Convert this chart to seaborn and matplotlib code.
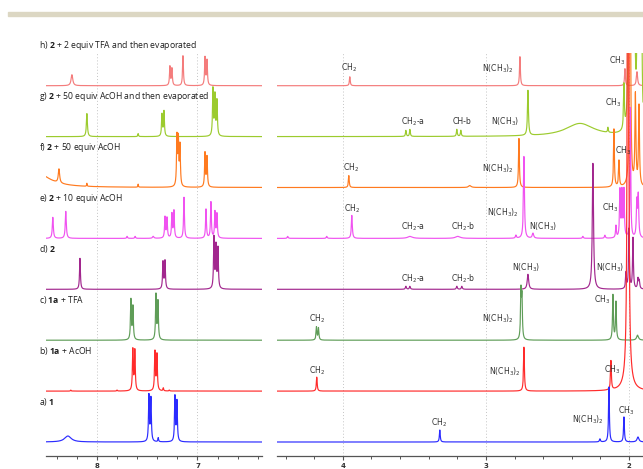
import numpy as np
import pandas as pd
import matplotlib
matplotlib.use("Agg")
import matplotlib.pyplot as plt
import seaborn as sns
from matplotlib.patches import Rectangle
from matplotlib.ticker import FixedLocator

# ---------------- data (peaks: ppm, height, half-width) ----------------
SPECTRA = ["h", "g", "f", "e", "d", "c", "b", "a"]
LABELS = [
    r"h) $\mathbf{2}$ + 2 equiv TFA and then evaporated",
    r"g) $\mathbf{2}$ + 50 equiv AcOH and then evaporated",
    r"f) $\mathbf{2}$ + 50 equiv AcOH",
    r"e) $\mathbf{2}$ + 10 equiv AcOH",
    r"d) $\mathbf{2}$",
    r"c) $\mathbf{1a}$ + TFA",
    r"b) $\mathbf{1a}$ + AcOH",
    r"a) $\mathbf{1}$",
]
COLORS = ["#f47c7c", "#9ccb2e", "#ff7a1f", "#f052f0", "#a2278e", "#5f9d58", "#ff2b2b", "#2b2bff"]

H_LEFT = [(8.249, 11, 0.010), (7.274, 19, 0.005), (7.254, 17, 0.005), (7.144, 30, 0.005),
          (6.925, 28, 0.005), (6.905, 25, 0.005)]
H_RIGHT = [(3.951, 9, 0.0035), (2.762, 29, 0.0035), (2.028, 17, 0.0035), (1.944, 14, 0.005)]

G_LEFT = [(8.100, 23, 0.006), (7.590, 3, 0.004), (7.353, 22, 0.005), (7.333, 25, 0.005),
          (6.846, 47, 0.005), (6.826, 40, 0.005), (6.806, 35, 0.005)]
G_RIGHT = [(3.559, 6, 0.0035), (3.531, 7, 0.0035), (3.203, 7, 0.0035), (3.175, 6, 0.0035),
           (2.706, 45, 0.004), (2.343, 13, 0.12), (2.147, 5, 0.003), (2.035, 44, 0.0035),
           (2.000, 600, 0.003), (1.979, 600, 0.003), (1.965, 600, 0.003),
           (1.937, 600, 0.003), (1.916, 600, 0.003)]

F_LEFT = [(8.600, 15, 0.15), (8.378, 14, 0.008), (8.100, 3, 0.003), (7.590, 3, 0.003),
          (7.204, 49, 0.005), (7.190, 45, 0.005), (7.174, 40, 0.005),
          (6.925, 34, 0.005), (6.905, 30, 0.005)]
F_RIGHT = [(3.958, 12, 0.0035), (3.112, 2, 0.01), (2.769, 49, 0.0035), (2.105, 58, 0.0035),
           (2.070, 26, 0.0035), (1.993, 600, 0.003), (1.955, 90, 0.004), (1.930, 80, 0.004)]

E_LEFT = [(8.439, 21, 0.006), (8.310, 27, 0.006), (7.700, 2, 0.005), (7.620, 2, 0.005),
          (7.440, 2, 0.008), (7.323, 21, 0.005), (7.303, 20, 0.005), (7.254, 24, 0.005),
          (7.234, 27, 0.005), (7.134, 41, 0.005), (6.915, 29, 0.005), (6.866, 36, 0.005),
          (6.826, 26, 0.005), (6.806, 24, 0.005)]
E_RIGHT = [(4.385, 2, 0.004), (4.112, 2, 0.004), (3.937, 23, 0.004), (3.530, 2, 0.02),
           (3.196, 2, 0.02), (2.790, 3, 0.004), (2.734, 82, 0.004), (2.671, 5, 0.006),
           (2.322, 2, 0.004), (2.168, 3, 0.004), (2.091, 12, 0.0035), (2.063, 47, 0.0035),
           (2.049, 45, 0.0035), (2.035, 47, 0.0035), (1.990, 130, 0.003),
           (1.945, 35, 0.004), (1.935, 41, 0.004)]

D_LEFT = [(8.169, 31, 0.005), (7.343, 27, 0.005), (7.323, 28, 0.005), (6.836, 51, 0.005),
          (6.816, 42, 0.005), (6.796, 40, 0.005)]
D_RIGHT = [(3.559, 3, 0.004), (3.531, 3, 0.004), (3.203, 3, 0.004), (3.168, 3, 0.004),
           (2.706, 15, 0.006), (2.252, 126, 0.005), (2.021, 16, 0.0035), (2.000, 60, 0.0035),
           (1.972, 51, 0.0035), (1.937, 10, 0.004), (1.928, 8, 0.004)]

C_LEFT = [(7.662, 40, 0.005), (7.642, 33, 0.005), (7.413, 45, 0.005), (7.393, 38, 0.005)]
C_RIGHT = [(4.184, 13, 0.0035), (4.170, 12, 0.0035), (2.755, 47, 0.0035), (2.748, 40, 0.0035),
           (2.112, 45, 0.0035), (2.091, 38, 0.0035), (1.940, 5, 0.008)]

B_LEFT = [(8.260, 1, 0.004), (7.800, 1, 0.004), (7.643, 41, 0.005), (7.623, 40, 0.005),
          (7.423, 39, 0.005), (7.403, 36, 0.005), (7.340, 3, 0.004), (7.280, 1, 0.004)]
B_RIGHT = [(4.182, 14, 0.0035), (2.734, 44, 0.0035), (2.126, 29, 0.0035),
           (2.007, 1500, 0.003), (2.007, 12, 0.03)]

A_LEFT = [(8.289, 6, 0.04), (7.483, 46, 0.005), (7.463, 43, 0.005), (7.390, 4, 0.004),
          (7.224, 45, 0.005), (7.204, 40, 0.005)]
A_RIGHT = [(3.322, 12, 0.0035), (2.203, 3, 0.004), (2.140, 55, 0.0035), (2.035, 25, 0.0035),
           (1.937, 5, 0.008)]

LEFT_PEAKS = [H_LEFT, G_LEFT, F_LEFT, E_LEFT, D_LEFT, C_LEFT, B_LEFT, A_LEFT]
RIGHT_PEAKS = [H_RIGHT, G_RIGHT, F_RIGHT, E_RIGHT, D_RIGHT, C_RIGHT, B_RIGHT, A_RIGHT]

CH2, CH3 = r"CH$_2$", r"CH$_3$"
NME2, NME = r"N(CH$_3$)$_2$", r"N(CH$_3$)"
NOTES = [
    [(CH2, 3.958, 18), (NME2, 2.916, 17), (CH3, 2.084, 25)],
    [(CH2 + "-a", 3.510, 15), ("CH-b", 3.168, 15), (NME, 2.867, 15), (CH3, 2.112, 34)],
    [(CH2, 3.944, 20), (NME2, 2.916, 19), (CH3, 2.042, 37)],
    [(CH2, 3.937, 30), (CH2 + "-a", 3.510, 12), (CH2 + "-b", 3.161, 12),
     (NME2, 2.881, 26), (NME, 2.601, 12), (CH3, 2.133, 31)],
    [(CH2 + "-a", 3.510, 11), (CH2 + "-b", 3.161, 11), (NME, 2.720, 22), (NME, 2.133, 22)],
    [(CH2, 4.182, 21), (NME2, 2.916, 21), (CH3, 2.189, 40)],
    [(CH2, 4.182, 20), (NME2, 2.867, 19), (CH3, 2.119, 21)],
    [(CH2, 3.329, 19), (NME2, 2.287, 22), (CH3, 2.021, 31)],
]

LEFT_RANGE = (8.507, 6.358)
RIGHT_RANGE = (4.46, 1.902)

# ---------------- style ----------------
sns.set_theme(style="white")
plt.rcParams["font.family"] = ["DejaVu Sans"]
plt.rcParams["mathtext.fontset"] = "custom"
plt.rcParams["mathtext.rm"] = "DejaVu Sans"
plt.rcParams["mathtext.bf"] = "Open Sans:bold"


def spectrum(grid, peaks):
    y = np.zeros_like(grid)
    for p, h, w in peaks:
        y += h * w * w / ((grid - p) ** 2 + w * w)
    return y


fig = plt.figure(figsize=(6.43, 4.69), dpi=100)
fig.patches.append(Rectangle((8 / 643, 1 - 16 / 469), 1, 4 / 469, transform=fig.transFigure,
                             color="#dcd7c3", zorder=0))
bottom, height = 13 / 469, 403 / 469
axL = fig.add_axes([46 / 643, bottom, 216 / 643, height])
axR = fig.add_axes([277 / 643, bottom, 366 / 643, height])

spacing = 50.9
gridL = np.linspace(LEFT_RANGE[1], LEFT_RANGE[0], 5000)
gridR = np.linspace(RIGHT_RANGE[1], RIGHT_RANGE[0], 7000)

for ax, majors in ((axL, [8, 7]), (axR, [4, 3, 2])):
    for m in majors:
        ax.axvline(m, color="#c4c4c4", lw=0.7, ls=(0, (1, 2.2)), zorder=0)

for i, name in enumerate(SPECTRA):
    base = 14 + spacing * (7 - i)
    col = COLORS[i]
    for ax, grid, peaks in ((axL, gridL, LEFT_PEAKS[i]), (axR, gridR, RIGHT_PEAKS[i])):
        df = pd.DataFrame({"ppm": grid, "y": base + spectrum(grid, peaks)})
        sns.lineplot(data=df, x="ppm", y="y", ax=ax, color=col, lw=0.85, estimator=None,
                     zorder=2 + i)
    axL.text(8.577, base + 40, LABELS[i], fontsize=6.25, family="Open Sans", color="#1e1e1e",
             va="center", ha="left", clip_on=False)
    for txt, xp, dy in NOTES[i]:
        axR.text(xp, base + dy, txt, fontsize=5.6, color="#333333", ha="center", va="center",
                 zorder=20)

for ax, rng, majors in ((axL, LEFT_RANGE, [8, 7]), (axR, RIGHT_RANGE, [4, 3, 2])):
    ax.set_xlim(rng)
    ax.set_ylim(0, 403)
    ax.set_xlabel("")
    ax.set_ylabel("")
    ax.set_yticks([])
    for s in ("left", "right", "top"):
        ax.spines[s].set_visible(False)
    ax.spines["bottom"].set_color("#555555")
    ax.spines["bottom"].set_linewidth(0.9)
    ax.xaxis.set_major_locator(FixedLocator(majors))
    ax.set_xticklabels([str(m) for m in majors], fontsize=5, fontweight="bold", color="#333333")
    lo, hi = min(rng), max(rng)
    minors = [round(v, 1) for v in np.arange(1.0, 9.0, 0.2) if lo <= v <= hi and abs(v - round(v)) > 0.05]
    ax.xaxis.set_minor_locator(FixedLocator(minors))
    ax.tick_params(axis="x", which="major", direction="out", length=3, width=0.8,
                   color="#555555", pad=2, bottom=True)
    ax.tick_params(axis="x", which="minor", direction="out", length=2.5, width=0.7,
                   color="#555555", bottom=True)

fig.savefig("out.png", dpi=100)
